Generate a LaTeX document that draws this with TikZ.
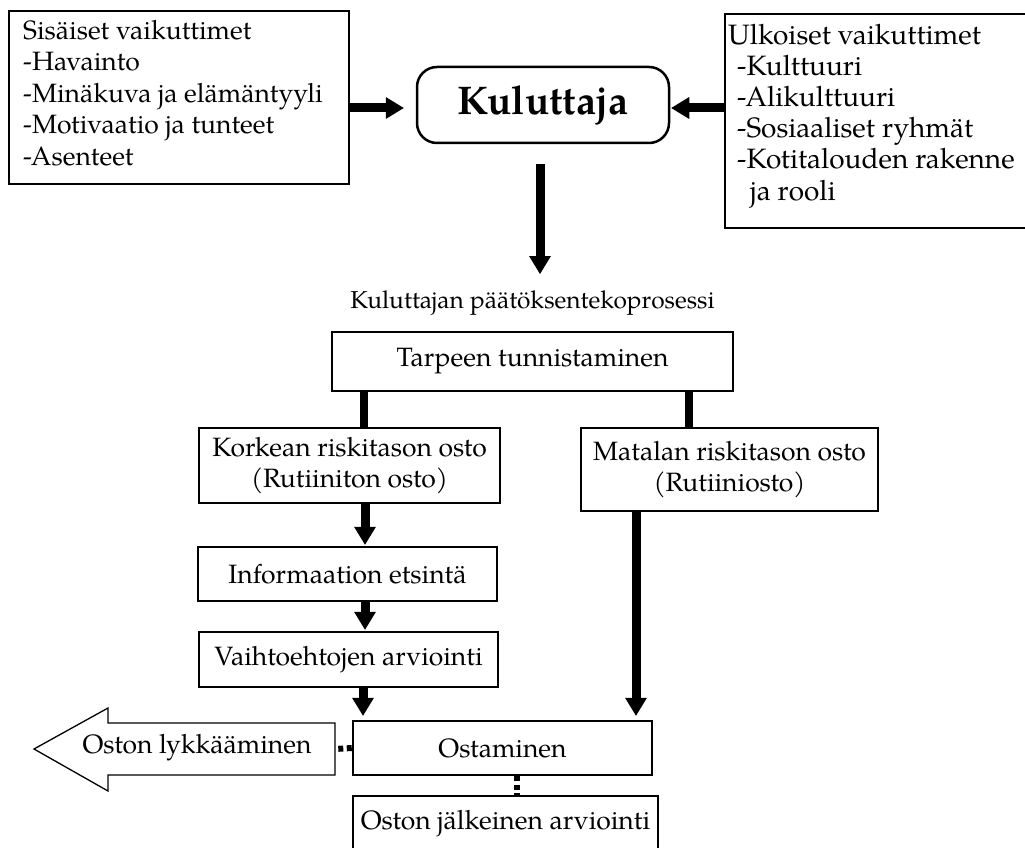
\documentclass[tikz,border=0pt]{standalone}
\usepackage{fontspec}
\setmainfont{TeX Gyre Pagella}
\usetikzlibrary{arrows.meta}
\begin{document}
\begin{tikzpicture}[x=1pt,y=-1pt,
  box/.style={draw, line width=2.5pt, inner sep=0pt, align=center},
  txt/.style={font=\fontsize{26.5}{31.5}\selectfont},
  arr/.style={line width=9pt, -{Triangle[width=22pt,length=18pt,line width=0pt]}},
  bar/.style={line width=8pt},
  dots/.style={line width=6pt, dash pattern=on 5pt off 3.5pt}]
\useasboundingbox (0,0) rectangle (1025,848);
\fill[white] (0,0) rectangle (1025,848);

% top row
\node[box, minimum width=340pt, minimum height=173pt] (S) at (179,97.5) {};
\node[txt, align=left, anchor=north west, inner sep=0pt] (St) at (23,20)
  {Sisäiset vaikuttimet\\-Havainto\\-Minäkuva ja elämäntyyli\\-Motivaatio ja tunteet\\-Asenteet};

\node[box, rounded corners=20pt, minimum width=252pt, minimum height=76pt,
  font=\fontsize{40}{42}\selectfont\bfseries] (K) at (543,105) {Kuluttaja};

\node[box, minimum width=302pt, minimum height=214pt] (U) at (876,121) {};
\node[font=\fontsize{28}{31.2}\selectfont, align=left, anchor=north west, inner sep=0pt] (Ut) at (728,23.5)
  {Ulkoiset vaikuttimet\\\hspace*{9pt}-Kulttuuri\\\hspace*{9pt}-Alikulttuuri\\\hspace*{9pt}-Sosiaaliset ryhmät\\\hspace*{9pt}-Kotitalouden rakenne\\\hspace*{22pt}ja rooli};

\draw[arr] ([yshift=-10.5pt]S.east) -- ([yshift=-3pt,xshift=-12pt]K.west);
\draw[arr] ([yshift=13pt]U.west) -- ([yshift=-3pt,xshift=1pt]K.east);
\coordinate (dtip) at (540,274);
\draw[arr] ([xshift=-3pt,yshift=-20pt]K.south) -- (dtip);

\node[font=\fontsize{24.5}{28}\selectfont] (L) at (532.5,303) {Kuluttajan päätöksentekoprosessi};

% process
\node[box, txt, minimum width=401pt, minimum height=59pt] (T) at (532.5,361.5) {Tarpeen tunnistaminen};
\node[box, txt, minimum width=301pt, minimum height=75pt] (KR) at (349.5,465.5) {Korkean riskitason osto\\(Rutiiniton osto)};
\node[box, txt, minimum width=297pt, minimum height=83pt] (M) at (729.5,469.5) {Matalan riskitason osto\\(Rutiiniosto)};
\node[box, txt, minimum width=299pt, minimum height=54pt] (I) at (347.5,574) {Informaation etsintä};
\node[box, txt, minimum width=299pt, minimum height=55pt] (V) at (348.5,659.5) {Vaihtoehtojen arviointi};
\node[box, txt, minimum width=299pt, minimum height=54pt] (O) at (502.5,748) {Ostaminen};
\node[box, txt, minimum width=305pt, minimum height=55pt] (J) at (505.5,823.5) {Oston jälkeinen arviointi};

\draw[bar] ([xshift=-168.5pt]T.south) -- ([xshift=14.5pt]KR.north);
\draw[bar] ([xshift=156.5pt]T.south) -- ([xshift=-40.5pt]M.north);

\draw[arr] ([xshift=15.5pt]KR.south) -- ([xshift=17.5pt,yshift=1pt]I.north);
\draw[arr] ([xshift=17.5pt]I.south) -- ([xshift=16.5pt,yshift=1pt]V.north);
\draw[arr] ([xshift=14.5pt]V.south) -- ([xshift=-139.5pt,yshift=4pt]O.north);
\draw[arr] ([xshift=-93.5pt]M.south) -- ([xshift=133.5pt,yshift=4pt]O.north);

% postponement arrow
\draw[line width=1.3pt, line join=miter] (335,723) -- (108,723) -- (108,708) -- (34,749) -- (108,791) -- (108,775) -- (335,775) -- cycle;
\coordinate (Pe) at (335,749);
\node[txt] (Pt) at (197,748) {Oston lykkääminen};

\draw[dots] (O.west) -- (Pe);
\draw[dots] ([xshift=14.5pt]O.south) -- ([xshift=11.5pt]J.north);
\end{tikzpicture}
\end{document}
